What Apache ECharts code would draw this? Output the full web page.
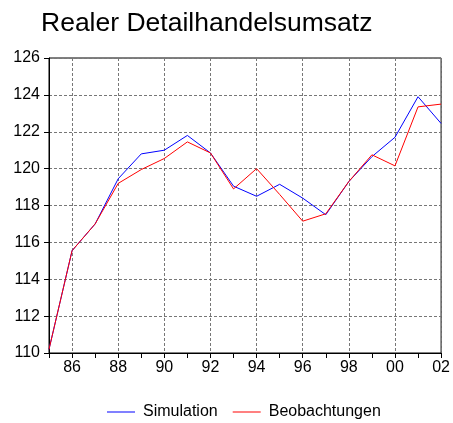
<!DOCTYPE html>
<html>
<head>
<meta charset="utf-8">
<script src="https://cdn.jsdelivr.net/npm/echarts@6/dist/echarts.min.js"></script>
<style>
html, body { margin: 0; padding: 0; background: #fff; }
#chart { width: 453px; height: 423px; }
</style>
</head>
<body>
<div id="chart"></div>
<script>
var years = ['1985', '1986', '1987', '1988', '1989', '1990', '1991', '1992', '1993',
	'1994', '1995', '1996', '1997', '1998', '1999', '2000', '2001', '2002'];
var simulation = [110.2, 115.55, 117.0, 119.45, 120.8, 121.0, 121.8, 120.85, 119.05,
	118.5, 119.15, 118.4, 117.5, 119.3, 120.65, 121.7, 123.9, 122.45];
var beobachtungen = [110.2, 115.55, 117.0, 119.2, 119.95, 120.55, 121.45, 120.85, 118.9,
	120.0, 118.6, 117.15, 117.55, 119.3, 120.75, 120.15, 123.35, 123.5];

var chart = echarts.init(document.getElementById('chart'));

var option = {
	animation: false,
	title: {
		text: 'Realer Detailhandelsumsatz',
		left: 36,
		top: 5,
		textStyle: {
			fontFamily: 'Liberation Sans',
			fontSize: 26.5,
			fontWeight: 'normal',
			color: '#000'
		}
	},
	grid: {
		left: 49,
		right: 9,
		top: 58,
		bottom: 70,
		show: true,
		borderColor: '#000',
		borderWidth: 1
	},
	legend: {
		left: 107,
		top: 404,
		padding: 0,
		itemGap: 15,
		itemWidth: 28,
		itemHeight: 1,
		icon: 'rect',
		textStyle: {
			fontFamily: 'Liberation Sans',
			fontSize: 16,
			color: '#000',
			padding: [0, 0, 0, 3]
		},
		data: ['Simulation', 'Beobachtungen']
	},
	xAxis: {
		type: 'category',
		data: years,
		boundaryGap: false,
		axisLine: { lineStyle: { color: '#000', width: 1 } },
		axisTick: {
			interval: 0,
			length: 5,
			lineStyle: { color: '#000' }
		},
		axisLabel: {
			interval: function (index) { return index % 2 === 1; },
			formatter: function (v) { return v.slice(2); },
			fontFamily: 'Liberation Sans',
			fontSize: 16,
			color: '#000',
			margin: 7
		},
		splitLine: {
			show: true,
			interval: function (index) { return index % 2 === 1; },
			lineStyle: { color: '#777', type: [3, 2], width: 1 }
		}
	},
	yAxis: {
		type: 'value',
		min: 110,
		max: 126,
		interval: 2,
		axisLine: { show: true, lineStyle: { color: '#000', width: 1 } },
		axisTick: { show: true, length: 5, lineStyle: { color: '#000' } },
		axisLabel: {
			fontFamily: 'Liberation Sans',
			fontSize: 16,
			color: '#000',
			margin: 9
		},
		splitLine: {
			lineStyle: { color: '#777', type: [3, 2], width: 1 }
		}
	},
	series: [
		{
			name: 'Simulation',
			type: 'line',
			data: simulation,
			symbol: 'none',
			lineStyle: { width: 1, color: '#0000ff' },
			itemStyle: { color: '#0000ff' }
		},
		{
			name: 'Beobachtungen',
			type: 'line',
			data: beobachtungen,
			symbol: 'none',
			lineStyle: { width: 1, color: '#ff0000' },
			itemStyle: { color: '#ff0000' }
		}
	]
};
chart.setOption(option);
</script>
</body>
</html>
